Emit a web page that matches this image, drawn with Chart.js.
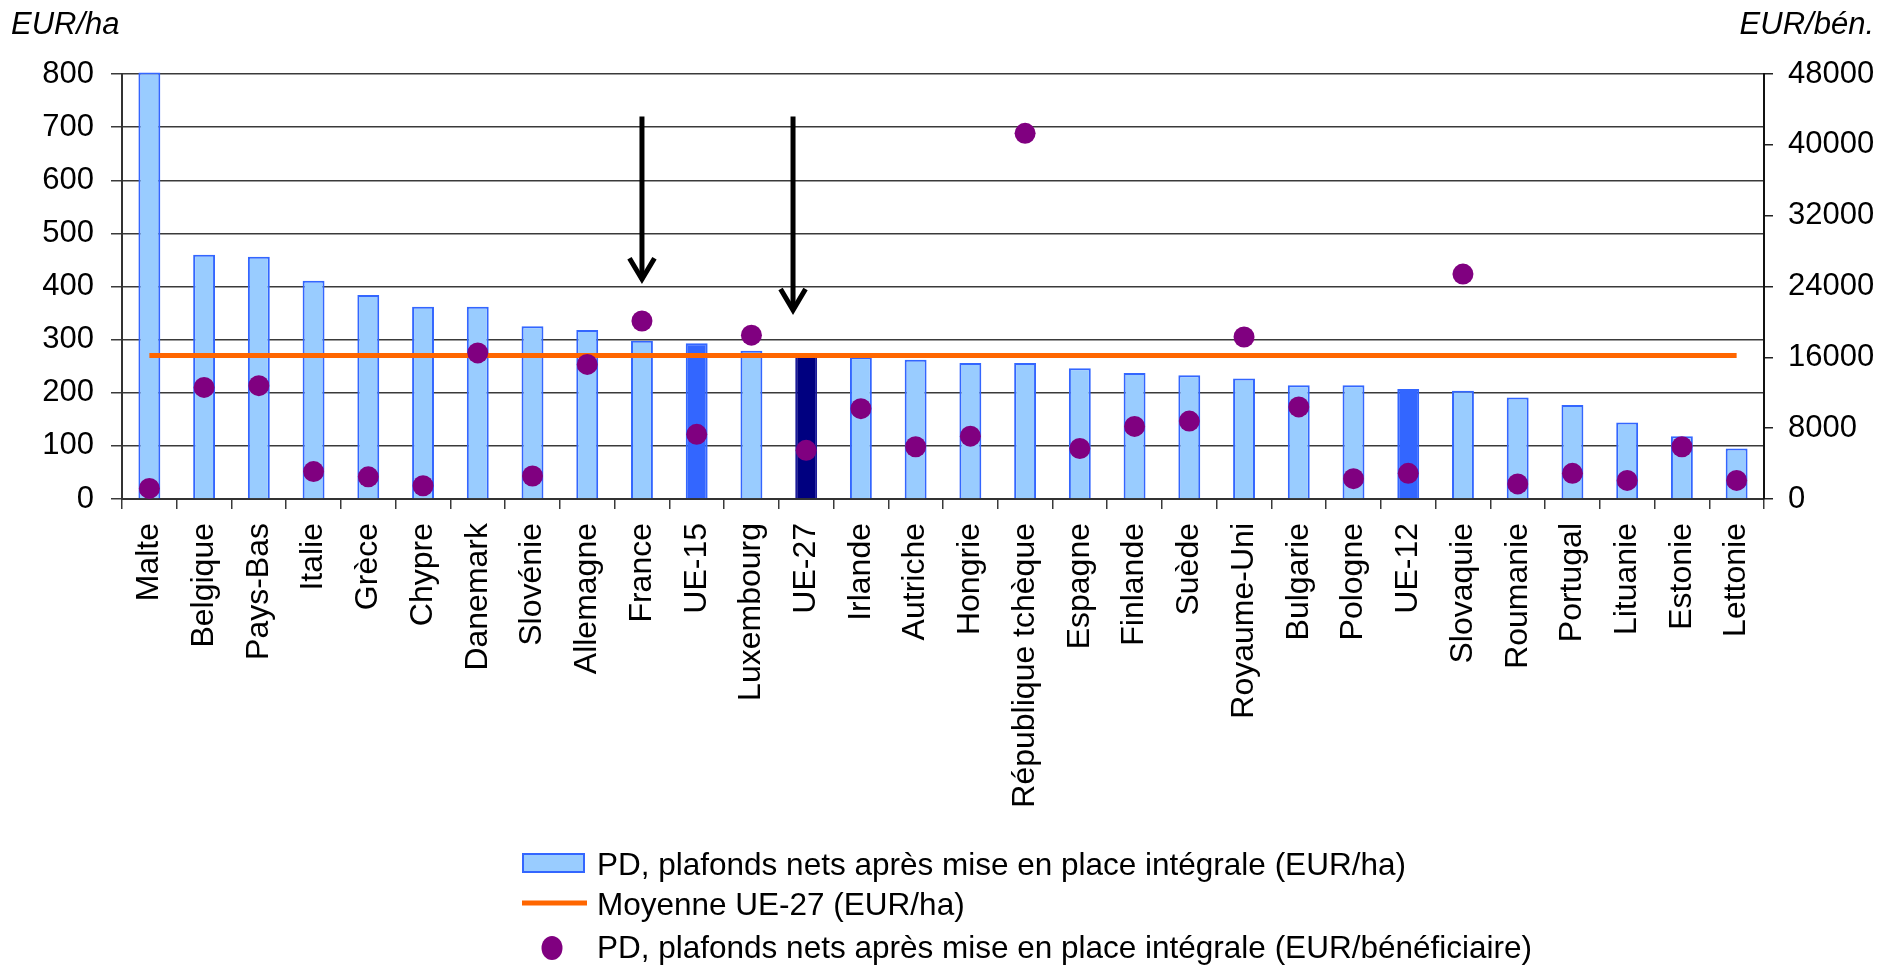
<!DOCTYPE html>
<html lang="fr">
<head>
<meta charset="utf-8">
<title>Paiements directs : plafonds nets après mise en place intégrale</title>
<script src="https://cdn.jsdelivr.net/npm/chart.js@4.4.1/dist/chart.umd.min.js"></script>
<style>
  html, body { margin: 0; padding: 0; background: #ffffff; }
  #wrap { width: 1890px; height: 967px; position: relative; }
  canvas { display: block; }
</style>
</head>
<body>
<div id="wrap"><canvas id="chart" width="1890" height="967"></canvas></div>
<script>
// Pays et agrégats, classés par plafond net en EUR/ha
const categories = [
  'Malte', 'Belgique', 'Pays-Bas', 'Italie', 'Grèce', 'Chypre', 'Danemark',
  'Slovénie', 'Allemagne', 'France', 'UE-15', 'Luxembourg', 'UE-27', 'Irlande',
  'Autriche', 'Hongrie', 'République tchèque', 'Espagne', 'Finlande', 'Suède',
  'Royaume-Uni', 'Bulgarie', 'Pologne', 'UE-12', 'Slovaquie', 'Roumanie',
  'Portugal', 'Lituanie', 'Estonie', 'Lettonie'
];

// PD, plafonds nets après mise en place intégrale (EUR/ha)
const eurPerHa = [
  803, 460, 456, 411, 384, 362, 362,
  325, 318, 298, 293, 279, 270, 267,
  262, 256, 256, 246, 237, 233,
  227, 214, 214, 207, 204, 191,
  177, 144, 118, 95
];

// PD, plafonds nets après mise en place intégrale (EUR/bénéficiaire)
const eurPerBeneficiary = [
  1200, 12600, 12800, 3100, 2500, 1500, 16500,
  2600, 15200, 20100, 7300, 18500, 5500, 10200,
  5900, 7100, 41300, 5700, 8200, 8800,
  18300, 10400, 2300, 2900, 25400, 1700,
  2900, 2100, 5900, 2100
];

// Moyenne UE-27 (EUR/ha)
const eu27Average = 270;

// Graduations des deux axes
const leftTicks = { min: 0, max: 800, step: 100 };
const rightTicks = { min: 0, max: 48000, step: 8000 };

// Flèches : catégorie visée, décalage en catégories, hauteur de départ et pointe (EUR/ha)
const arrows = [
  { category: 'France', shift: 0, from: 720, to: 410 },
  { category: 'UE-27', shift: -0.24, from: 720, to: 352 }
];

const seriesLabels = [
  'PD, plafonds nets après mise en place intégrale (EUR/ha)',
  'Moyenne UE-27 (EUR/ha)',
  'PD, plafonds nets après mise en place intégrale (EUR/bénéficiaire)'
];

const FONT = "'Liberation Sans', Arial, Helvetica, sans-serif";
const COLORS = {
  barFill: '#99CCFF',
  barBorder: '#3366FF',
  aggregateFill: '#3366FF',
  eu27Fill: '#000080',
  average: '#FF6600',
  dots: '#800080',
  grid: '#3a3a3a',
  axis: '#333333'
};

const barFills = categories.map(c =>
  c === 'UE-27' ? COLORS.eu27Fill : (c === 'UE-15' || c === 'UE-12') ? COLORS.aggregateFill : COLORS.barFill);
const barBorders = categories.map(c =>
  c === 'UE-27' ? '#1a1a9a' : COLORS.barBorder);

// Titres d'axes, flèches et légende
const overlayPlugin = {
  id: 'overlay',
  afterDatasetsDraw(chart) {
    const { ctx, scales } = chart;
    ctx.save();
    ctx.strokeStyle = '#000000';
    ctx.lineWidth = 5;
    ctx.lineCap = 'butt';
    ctx.lineJoin = 'miter';
    arrows.forEach(a => {
      const idx = categories.indexOf(a.category) + a.shift;
      const x = scales.x.getPixelForValue(idx);
      const y0 = scales.y.getPixelForValue(a.from);
      const y1 = scales.y.getPixelForValue(a.to);
      ctx.beginPath();
      ctx.moveTo(x, y0);
      ctx.lineTo(x, y1 - 2);
      ctx.stroke();
      ctx.beginPath();
      ctx.moveTo(x - 12.5, y1 - 23);
      ctx.lineTo(x, y1 - 2);
      ctx.lineTo(x + 12.5, y1 - 23);
      ctx.stroke();
    });
    ctx.restore();
  },
  afterDraw(chart) {
    const { ctx } = chart;
    ctx.save();
    ctx.fillStyle = '#000000';
    ctx.font = `italic 31px ${FONT}`;
    ctx.textBaseline = 'alphabetic';
    ctx.textAlign = 'left';
    ctx.fillText('EUR/ha', 11, 34);
    ctx.textAlign = 'right';
    ctx.fillText('EUR/bén.', 1874, 34);

    // Légende
    const lx = 522, tx = 597;
    ctx.textAlign = 'left';
    ctx.font = `31.5px ${FONT}`;
    // barres
    ctx.fillStyle = COLORS.barFill;
    ctx.fillRect(lx, 853, 63, 20);
    ctx.strokeStyle = COLORS.barBorder;
    ctx.lineWidth = 2;
    ctx.strokeRect(lx + 1, 854, 61, 18);
    ctx.fillStyle = '#000000';
    ctx.fillText(chart.data.datasets[0].label, tx, 875);
    // moyenne
    ctx.strokeStyle = COLORS.average;
    ctx.lineWidth = 5;
    ctx.beginPath();
    ctx.moveTo(lx, 903);
    ctx.lineTo(lx + 65, 903);
    ctx.stroke();
    ctx.fillText(chart.data.datasets[1].label, tx, 915);
    // points
    ctx.fillStyle = COLORS.dots;
    ctx.beginPath();
    ctx.ellipse(552, 948, 10.5, 12, 0, 0, Math.PI * 2);
    ctx.fill();
    ctx.fillStyle = '#000000';
    ctx.fillText(chart.data.datasets[2].label, tx, 958);
    ctx.restore();
  }
};

new Chart(document.getElementById('chart'), {
  data: {
    labels: categories,
    datasets: [
      {
        type: 'bar',
        label: seriesLabels[0],
        data: eurPerHa,
        yAxisID: 'y',
        backgroundColor: barFills,
        borderColor: barBorders,
        borderWidth: 2,
        borderSkipped: 'start',
        categoryPercentage: 1,
        barPercentage: 0.4,
        clip: false,
        order: 3
      },
      {
        type: 'line',
        label: seriesLabels[1],
        data: categories.map(() => eu27Average),
        yAxisID: 'y',
        borderColor: COLORS.average,
        borderWidth: 5,
        pointRadius: 0,
        fill: false,
        order: 2
      },
      {
        type: 'line',
        label: seriesLabels[2],
        data: eurPerBeneficiary,
        yAxisID: 'y2',
        showLine: false,
        pointRadius: 10.5,
        pointBackgroundColor: COLORS.dots,
        pointBorderWidth: 0,
        pointBorderColor: COLORS.dots,
        order: 1
      }
    ]
  },
  options: {
    responsive: false,
    animation: false,
    devicePixelRatio: 1,
    layout: { padding: { top: 74, left: 0, right: 0, bottom: 0 } },
    plugins: {
      legend: { display: false },
      tooltip: { enabled: false }
    },
    scales: {
      x: {
        type: 'category',
        offset: true,
        grid: {
          offset: true,
          drawOnChartArea: false,
          drawTicks: true,
          tickLength: 10,
          color: COLORS.grid,
          lineWidth: 1.5
        },
        border: { color: COLORS.axis, width: 2 },
        ticks: {
          autoSkip: false,
          minRotation: 90,
          maxRotation: 90,
          padding: 14,
          color: '#000000',
          font: { family: FONT, size: 32 }
        },
        afterFit(scale) { scale.height = 967 - 499; }
      },
      y: {
        position: 'left',
        min: leftTicks.min,
        max: leftTicks.max,
        grid: {
          color: COLORS.grid,
          lineWidth: 1.5,
          tickLength: 11,
          drawTicks: true
        },
        border: { color: COLORS.axis, width: 2 },
        ticks: {
          stepSize: leftTicks.step,
          padding: 17,
          color: '#000000',
          font: { family: FONT, size: 31 }
        },
        afterFit(scale) { scale.width = 122; }
      },
      y2: {
        position: 'right',
        min: rightTicks.min,
        max: rightTicks.max,
        grid: {
          drawOnChartArea: false,
          color: '#222222',
          lineWidth: 1.5,
          tickLength: 9
        },
        border: { color: '#111111', width: 2 },
        ticks: {
          stepSize: rightTicks.step,
          padding: 15,
          color: '#000000',
          font: { family: FONT, size: 31 },
          callback: value => String(value)
        },
        afterFit(scale) { scale.width = 1890 - 1764; }
      }
    }
  },
  plugins: [overlayPlugin]
});
</script>
</body>
</html>
